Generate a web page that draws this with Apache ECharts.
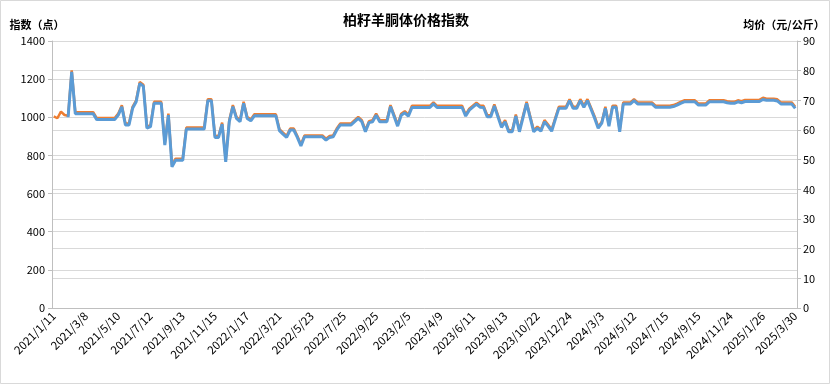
<!DOCTYPE html>
<html>
<head>
<meta charset="utf-8">
<script src="https://cdn.jsdelivr.net/npm/echarts@6/dist/echarts.min.js"></script>
<style>
html,body{margin:0;padding:0;background:#fff;}
#chart{width:830px;height:384px;}
</style>
</head>
<body>
<div id="chart"></div>
<script>
// Labelled dates (every 9th category)
const tickDates = ['2021/1/11','2021/3/8','2021/5/10','2021/7/12','2021/9/13','2021/11/15',
  '2022/1/17','2022/3/21','2022/5/23','2022/7/25','2022/9/25','2023/2/5','2023/4/9','2023/6/11',
  '2023/8/13','2023/10/22','2023/12/24','2024/3/3','2024/5/12','2024/7/15','2024/9/15',
  '2024/11/24','2025/1/26','2025/3/30'];

// 指数（点） – left axis
const indexValues = [
  1005,995,1030,1012,1008,1246,1027,1027,1027,1027,
  1027,1027,996,996,996,996,996,996,1019,1063,
  968,968,1055,1089,1185,1171,951,958,1081,1081,
  1081,862,1019,748,783,783,783,946,946,946,
  946,946,946,1095,1095,902,902,972,775,985,
  1064,1002,985,1081,1002,989,1016,1016,1016,1016,
  1016,1016,1016,938,920,902,941,941,902,857,
  905,905,905,905,905,905,888,902,905,941,
  968,968,968,968,985,1002,985,932,980,985,
  1019,985,985,985,1064,1013,962,1019,1032,1014,
  1060,1060,1060,1060,1060,1060,1078,1060,1060,1060,
  1060,1060,1060,1060,1060,1014,1045,1061,1077,1061,
  1060,1011,1011,1067,1011,955,985,932,932,1014,
  932,1007,1081,1007,932,951,935,985,962,935,
  996,1055,1055,1055,1095,1055,1055,1095,1061,1095,
  1050,1004,951,977,1055,962,1061,1061,932,1078,
  1078,1078,1095,1078,1078,1078,1078,1078,1061,1061,
  1061,1061,1061,1064,1072,1081,1089,1089,1089,1089,
  1072,1072,1072,1089,1089,1089,1089,1089,1084,1081,
  1081,1089,1084,1091,1091,1091,1091,1091,1102,1097,
  1097,1097,1094,1078,1078,1078,1078,1055
];

// 均价（元/公斤） – right axis
const priceValues = [
  null,null,null,null,64.3,79.6,65.5,65.5,65.5,65.5,
  65.5,65.5,63.5,63.5,63.5,63.5,63.5,63.5,65.0,67.8,
  61.7,61.7,67.3,69.5,75.7,74.8,60.6,61.1,69.0,69.0,
  69.0,54.9,65.0,47.6,49.8,49.8,49.8,60.3,60.3,60.3,
  60.3,60.3,60.3,69.9,69.9,57.5,57.5,62.0,49.3,62.8,
  67.9,63.9,62.8,69.0,63.9,63.1,64.8,64.8,64.8,64.8,
  64.8,64.8,64.8,59.8,58.6,57.5,60.0,60.0,57.5,54.6,
  57.7,57.7,57.7,57.7,57.7,57.7,56.6,57.5,57.7,60.0,
  61.7,61.7,61.7,61.7,62.8,63.9,62.8,59.4,62.5,62.8,
  65.0,62.8,62.8,62.8,67.9,64.6,61.3,65.0,65.8,64.7,
  67.6,67.6,67.6,67.6,67.6,67.6,68.8,67.6,67.6,67.6,
  67.6,67.6,67.6,67.6,67.6,64.7,66.7,67.7,68.7,67.7,
  67.6,64.5,64.5,68.1,64.5,60.9,62.8,59.4,59.4,64.7,
  59.4,64.2,69.0,64.2,59.4,60.6,59.6,62.8,61.3,59.6,
  63.5,67.3,67.3,67.3,69.9,67.3,67.3,69.9,67.7,69.9,
  67.0,64.0,60.6,62.3,67.3,61.3,67.7,67.7,59.4,68.8,
  68.8,68.8,69.9,68.8,68.8,68.8,68.8,68.8,67.7,67.7,
  67.7,67.7,67.7,67.9,68.4,69.0,69.5,69.5,69.5,69.5,
  68.4,68.4,68.4,69.5,69.5,69.5,69.5,69.5,69.2,69.0,
  69.0,69.5,69.2,69.6,69.6,69.6,69.6,69.6,70.3,70.0,
  70.0,70.0,69.8,68.8,68.8,68.8,68.8,67.3
];

const titleText = '柏籽羊胴体价格指数';
const leftName = '指数（点）';
const rightName = '均价（元/公斤）';

// categories: labelled dates every 9 points; in-between weeks filled by weekly steps (not shown)
const categories = [];
tickDates.forEach((d, k) => {
  const p = d.split('/').map(Number);
  const base = new Date(p[0], p[1]-1, p[2]);
  const steps = (k === tickDates.length - 1) ? 1 : 9;
  for (let j = 0; j < steps; j++) {
    if (j === 0) { categories.push(d); continue; }
    const t = new Date(base.getTime() + j * 7 * 86400000);
    categories.push(t.getFullYear() + '/' + (t.getMonth()+1) + '/' + t.getDate());
  }
});

const numFont = "'Noto Sans CJK SC', 'Liberation Sans', sans-serif";
const chart = echarts.init(document.getElementById('chart'), null, {renderer:'canvas'});
chart.setOption({
  animation: false,
  backgroundColor: '#fff',
  title: {
    text: titleText, left: 338, top: 8,
    textStyle: {fontSize: 14, fontWeight: 'bold', color: '#000', fontFamily: numFont}
  },
  graphic: [{
    type: 'rect', silent: true,
    shape: {x: 0.5, y: 0.5, width: 829, height: 383},
    style: {fill: null, stroke: '#d9d9d9', lineWidth: 1}
  }],
  grid: {left: 52, right: 33, top: 41, bottom: 76, containLabel: false},
  xAxis: {
    type: 'category', data: categories, boundaryGap: true,
    axisLine: {lineStyle: {color: '#bfbfbf'}},
    axisTick: {alignWithLabel: true, length: 4, interval: (i) => i % 9 === 4, lineStyle: {color: '#bfbfbf'}},
    axisLabel: {interval: 8, rotate: 45, fontSize: 11.5, color: '#000', margin: 6, fontFamily: numFont}
  },
  yAxis: [{
    type: 'value', min: 0, max: 1400, interval: 200, position: 'left',
    name: leftName, nameLocation: 'end', nameGap: 11,
    nameTextStyle: {fontSize: 11, fontWeight: 'bold', color: '#000', align: 'center', padding: [0, 30, 0, 0], fontFamily: numFont},
    axisLine: {show: true, lineStyle: {color: '#bfbfbf'}},
    axisTick: {show: true, length: 4, lineStyle: {color: '#bfbfbf'}},
    axisLabel: {fontSize: 11, color: '#000', margin: 7, fontFamily: numFont, formatter: (v) => String(v)},
    splitLine: {show: true, lineStyle: {color: '#d9d9d9'}}
  }, {
    type: 'value', min: 0, max: 90, interval: 10, position: 'right',
    name: rightName, nameLocation: 'end', nameGap: 11,
    nameTextStyle: {fontSize: 11, fontWeight: 'bold', color: '#000', align: 'center', padding: [0, 26, 0, 0], fontFamily: numFont},
    axisLine: {show: true, lineStyle: {color: '#bfbfbf'}},
    axisTick: {show: true, length: 4, lineStyle: {color: '#bfbfbf'}},
    axisLabel: {fontSize: 11, color: '#000', margin: 6, fontFamily: numFont, formatter: (v) => String(v)},
    splitLine: {show: true, lineStyle: {color: '#d9d9d9'}}
  }],
  series: [{
    name: leftName, type: 'line', yAxisIndex: 0, data: indexValues,
    showSymbol: false, symbol: 'none',
    lineStyle: {color: '#ED7D31', width: 2.5}, itemStyle: {color: '#ED7D31'}
  }, {
    name: rightName, type: 'line', yAxisIndex: 1, data: priceValues,
    showSymbol: false, symbol: 'none', connectNulls: false,
    lineStyle: {color: '#5B9BD5', width: 3}, itemStyle: {color: '#5B9BD5'}
  }]
});
</script>
</body>
</html>
